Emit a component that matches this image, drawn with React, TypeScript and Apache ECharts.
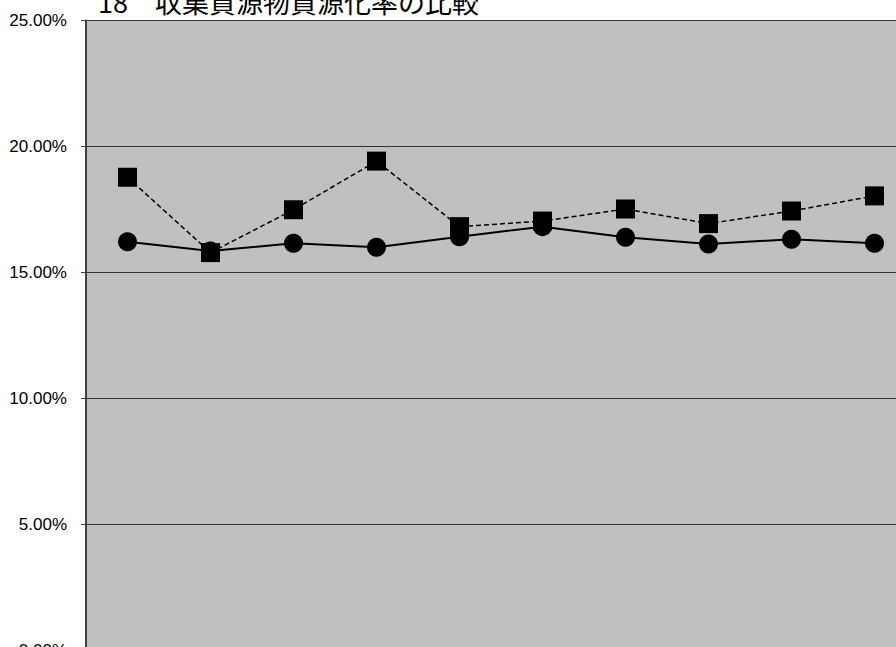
import React, { useEffect, useRef } from "react";
import * as echarts from "echarts";

const title = "18　収集資源物資源化率の比較";
const categories = ["1", "2", "3", "4", "5", "6", "7", "8", "9", "10"];
const seriesCircle = [16.22, 15.85, 16.16, 16.0, 16.42, 16.82, 16.4, 16.13, 16.32, 16.16];
const seriesSquare = [18.78, 15.79, 17.49, 19.42, 16.82, 17.04, 17.52, 16.94, 17.44, 18.04];
const yTicks = { min: 0, max: 25, interval: 5 };

export default function App() {
  const ref = useRef<HTMLDivElement>(null);
  useEffect(() => {
    if (!ref.current) return;
    const chart = echarts.init(ref.current, null, { renderer: "svg" });
    chart.setOption({
      animation: false,
      backgroundColor: "#ffffff",
      title: {
        text: title,
        left: 93,
        top: -17,
        textStyle: {
          fontFamily: "Noto Sans CJK JP",
          fontSize: 27,
          fontWeight: "normal",
          color: "#000",
        },
      },
      grid: {
        left: 86,
        top: 20.5,
        width: 830,
        bottom: 49.5,
        show: true,
        backgroundColor: "#c0c0c0",
        borderColor: "#808080",
        borderWidth: 1,
        outerBoundsMode: "none",
      },
      xAxis: {
        type: "category",
        data: categories,
        boundaryGap: true,
        axisLabel: { show: false },
        axisTick: { show: false },
        axisLine: { show: false },
      },
      yAxis: {
        type: "value",
        min: yTicks.min,
        max: yTicks.max,
        interval: yTicks.interval,
        axisLine: { show: true, lineStyle: { color: "#404040", width: 2 } },
        axisTick: { show: true, length: 5, lineStyle: { color: "#404040", width: 1 } },
        splitLine: { show: true, lineStyle: { color: "#333333", width: 1 } },
        axisLabel: {
          formatter: (v: number) => v.toFixed(2) + "%",
          fontFamily: "Liberation Sans",
          fontSize: 17,
          color: "#000",
          margin: 19,
        },
      },
      series: [
        {
          type: "line",
          data: seriesCircle,
          symbol: "circle",
          symbolSize: 19,
          lineStyle: { color: "#000", width: 2, type: "solid" },
          itemStyle: { color: "#000" },
          z: 2,
        },
        {
          type: "line",
          data: seriesSquare,
          symbol: "rect",
          symbolSize: 19,
          lineStyle: { color: "#000", width: 1.5, type: [5, 3] },
          itemStyle: { color: "#000" },
          z: 3,
        },
      ],
    });
    return () => chart.dispose();
  }, []);
  return (
    <div style={{ position: "fixed", left: 0, top: 0, width: 896, height: 647, overflow: "hidden" }}>
      <div ref={ref} style={{ width: 940, height: 700 }} />
    </div>
  );
}
